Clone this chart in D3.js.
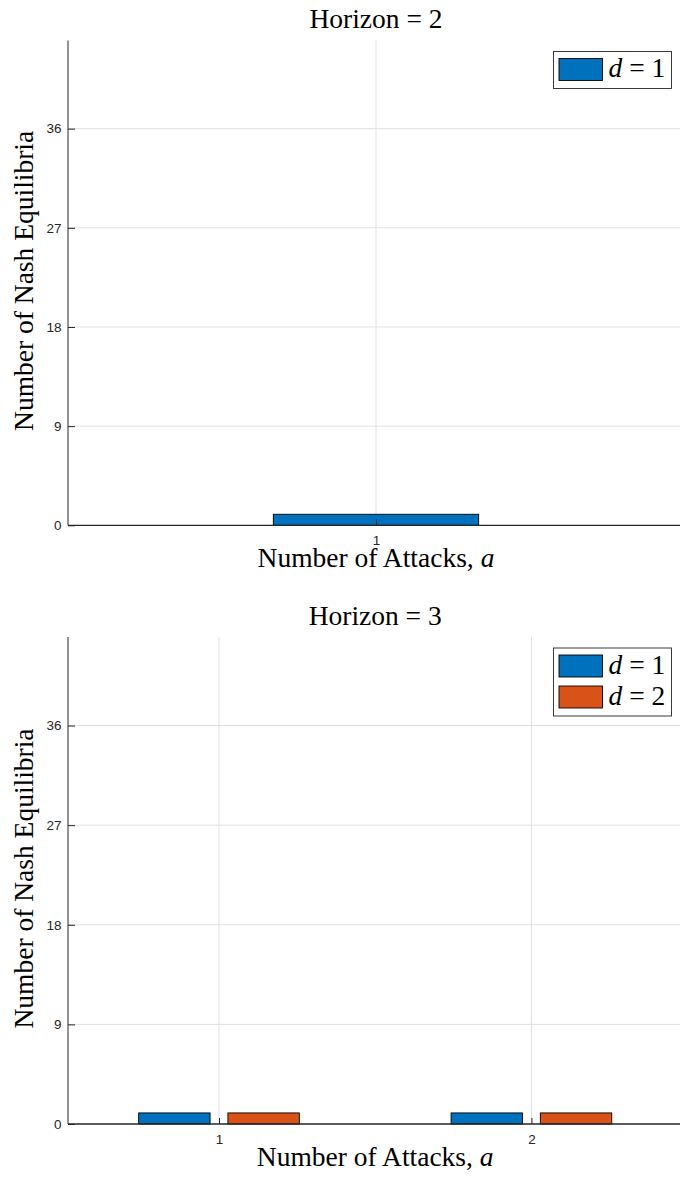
<!DOCTYPE html>
<html>
<head>
<meta charset="utf-8">
<script src="https://cdn.jsdelivr.net/npm/d3@7"></script>
<style>
  html, body { margin: 0; padding: 0; background: #fff; }
  svg { display: block; }
</style>
</head>
<body>
<div id="chart"></div>
<script>
// Number of Nash equilibria per number of attacks, one panel per horizon
const horizons = [2, 3];
const defenders = [1, 2];

// Horizon = 2
const attacksH2 = [1];
const nashH2D1 = [1];

// Horizon = 3
const attacksH3 = [1, 2];
const nashH3D1 = [1, 1];
const nashH3D2 = [1, 1];

const yTicks = [0, 9, 18, 27, 36];
const yMax = 44;

const colors = ["#0072BD", "#D95319"];
const W = 680, H = 1180;
const serif = "'Liberation Serif', 'Times New Roman', serif";
const sans = "'Liberation Sans', Arial, Helvetica, sans-serif";
const axisColor = "#262626";
const gridColor = "#e0e0e0";
const labelSize = 27.5;
const tickSize = 13.5;

const svg = d3.select("#chart").append("svg")
  .attr("width", W).attr("height", H)
  .attr("viewBox", `0 0 ${W} ${H}`);

const panels = [
  {
    horizon: horizons[0],
    cats: attacksH2,
    series: [nashH2D1],
    top: 40.5, bottom: 525.3, left: 68, right: 684,
    xDomain: [-0.2, 2.2]
  },
  {
    horizon: horizons[1],
    cats: attacksH3,
    series: [nashH3D1, nashH3D2],
    top: 637, bottom: 1124, left: 68, right: 682.4,
    xDomain: [0.5167, 2.4833]
  }
];

panels.forEach((p, pi) => {
  const g = svg.append("g");
  const clipId = "clip" + pi;
  const visRight = Math.min(p.right, W);

  svg.append("clipPath").attr("id", clipId)
    .append("rect")
    .attr("x", p.left).attr("y", p.top - 1)
    .attr("width", visRight - p.left).attr("height", p.bottom - p.top + 2);

  const x = d3.scaleLinear().domain(p.xDomain).range([p.left, p.right]);
  const y = d3.scaleLinear().domain([0, yMax]).range([p.bottom, p.top]);

  const plot = g.append("g").attr("clip-path", `url(#${clipId})`);

  // grid
  plot.selectAll(".hgrid").data(yTicks.filter(t => t > 0)).join("line")
    .attr("x1", p.left).attr("x2", visRight)
    .attr("y1", d => y(d)).attr("y2", d => y(d))
    .attr("stroke", gridColor).attr("stroke-width", 1);
  plot.selectAll(".vgrid").data(p.cats).join("line")
    .attr("x1", d => x(d)).attr("x2", d => x(d))
    .attr("y1", p.top).attr("y2", p.bottom)
    .attr("stroke", gridColor).attr("stroke-width", 1);

  // grouped bars (MATLAB-style group widths)
  const n = p.series.length;
  const groupW = n === 1 ? 0.8 : Math.min(0.8, n / (n + 1.5));
  const barW = n === 1 ? 0.8 : groupW / n * 0.8;
  p.series.forEach((vals, si) => {
    const off = n === 1 ? 0 : (si - (n - 1) / 2) * groupW / n;
    plot.selectAll(".bar" + si).data(p.cats.map((c, i) => ({ c, v: vals[i] }))).join("rect")
      .attr("x", d => x(d.c + off - barW / 2))
      .attr("width", d => x(d.c + off + barW / 2) - x(d.c + off - barW / 2))
      .attr("y", d => y(d.v))
      .attr("height", d => y(0) - y(d.v))
      .attr("fill", colors[si])
      .attr("stroke", "#000").attr("stroke-width", 0.9);
  });

  // axes
  const yAxis = d3.axisLeft(y).tickValues(yTicks).tickSize(-7).tickPadding(13)
    .tickFormat(d3.format("d"));
  const ga = g.append("g").attr("transform", `translate(${p.left},0)`).call(yAxis);
  ga.attr("font-size", null).attr("font-family", null);
  ga.select(".domain").attr("d", `M0,${p.top}V${p.bottom}`).attr("stroke", axisColor);
  ga.selectAll(".tick line").attr("stroke", axisColor);
  ga.selectAll(".tick text")
    .style("font-family", sans).style("font-size", tickSize + "px")
    .attr("fill", axisColor).attr("x", -6.5);

  const xAxis = d3.axisBottom(x).tickValues(p.cats).tickSize(-6).tickPadding(10)
    .tickFormat(d3.format("d"));
  const gx = g.append("g").attr("transform", `translate(0,${p.bottom})`).call(xAxis);
  gx.attr("font-size", null).attr("font-family", null);
  gx.select(".domain").attr("d", `M${p.left},0H${visRight}`).attr("stroke", axisColor)
    .attr("stroke-width", 1.3);
  gx.selectAll(".tick line").attr("stroke", axisColor);
  gx.selectAll(".tick text")
    .style("font-family", sans).style("font-size", tickSize + "px")
    .attr("fill", axisColor).attr("y", 10);

  const cx = (p.left + p.right) / 2;

  // title
  g.append("text").attr("x", cx).attr("y", p.top - 12.5)
    .attr("text-anchor", "middle").attr("font-family", serif).attr("font-size", labelSize)
    .attr("fill", "#000").text(`Horizon = ${p.horizon}`);

  // x label
  const xl = g.append("text").attr("x", cx).attr("y", p.bottom + 42)
    .attr("text-anchor", "middle").attr("font-family", serif).attr("font-size", labelSize)
    .attr("fill", "#000");
  xl.append("tspan").text("Number of Attacks, ");
  xl.append("tspan").attr("font-style", "italic").text("a");

  // y label
  g.append("text")
    .attr("transform", `translate(33,${(p.top + p.bottom) / 2 - 2}) rotate(-90)`)
    .attr("text-anchor", "middle").attr("font-family", serif).attr("font-size", labelSize)
    .attr("fill", "#000").text("Number of Nash Equilibria");

  // legend
  const lx = 553.5, ly = p.top + 11, rowH = 31;
  const lg = g.append("g");
  lg.append("rect").attr("x", lx).attr("y", ly)
    .attr("width", 118).attr("height", 6 + n * rowH)
    .attr("fill", "#fff").attr("stroke", axisColor).attr("stroke-width", 0.9);
  p.series.forEach((_, si) => {
    const ry = ly + 7 + si * rowH;
    lg.append("rect").attr("x", lx + 5.5).attr("y", ry)
      .attr("width", 43.5).attr("height", 22)
      .attr("fill", colors[si]).attr("stroke", "#000").attr("stroke-width", 0.9);
    const t = lg.append("text").attr("x", lx + 55).attr("y", ry + 18.5)
      .attr("font-family", serif).attr("font-size", labelSize).attr("fill", "#000");
    t.append("tspan").attr("font-style", "italic").text("d");
    t.append("tspan").text(` = ${defenders[si]}`);
  });
});
</script>
</body>
</html>
